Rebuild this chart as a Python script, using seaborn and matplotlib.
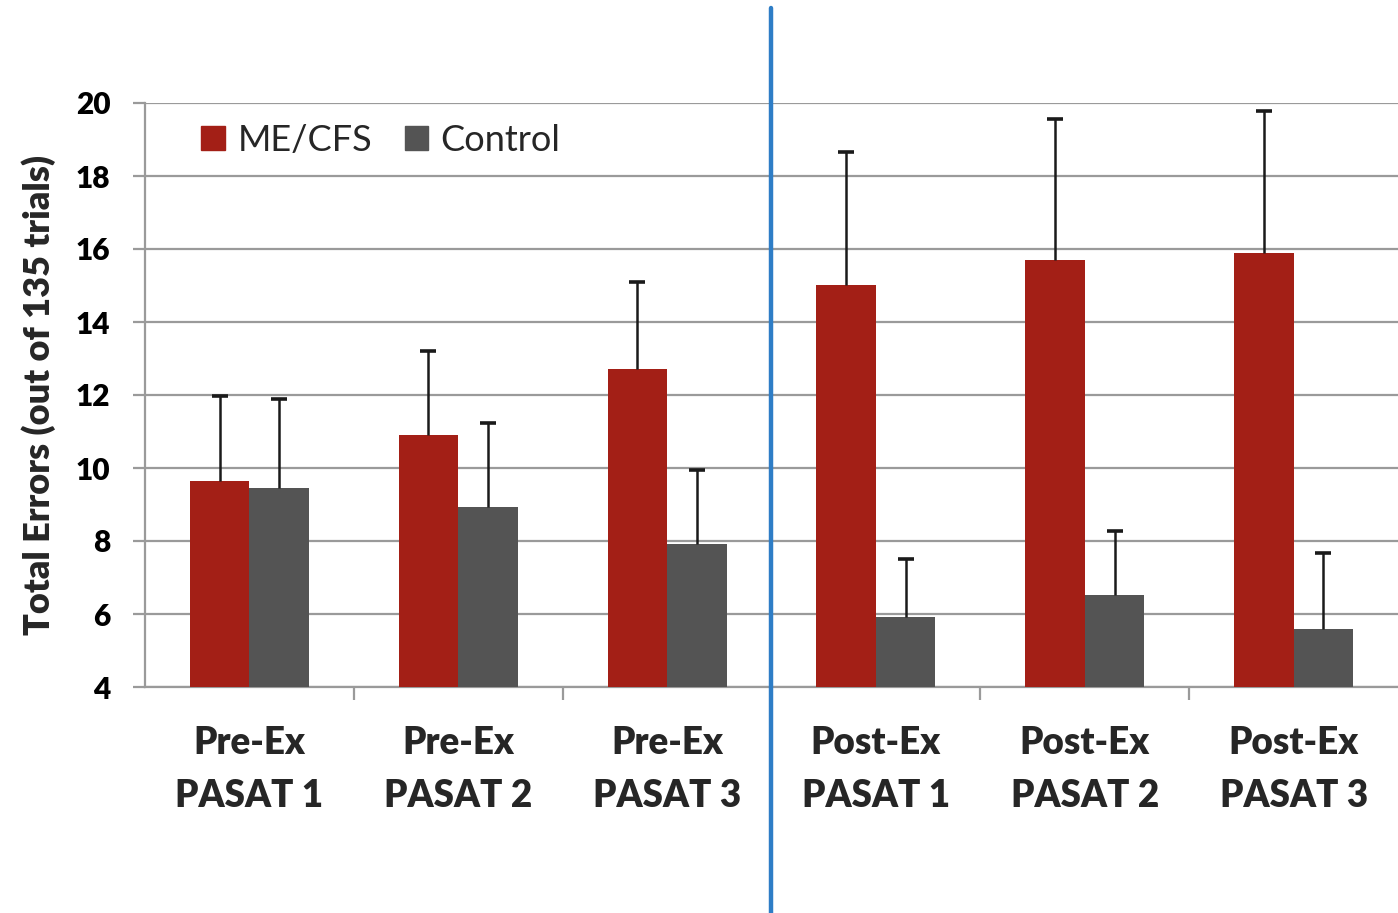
import matplotlib
matplotlib.use("Agg")
import matplotlib.pyplot as plt
from matplotlib.patches import Patch
import seaborn as sns
import pandas as pd
import numpy as np

categories = ["Pre-Ex\nPASAT 1", "Pre-Ex\nPASAT 2", "Pre-Ex\nPASAT 3",
              "Post-Ex\nPASAT 1", "Post-Ex\nPASAT 2", "Post-Ex\nPASAT 3"]
groups = ["ME/CFS", "Control"]
me_values = [9.65, 10.9, 12.7, 15.0, 15.7, 15.9]
me_errors = [2.32, 2.3, 2.4, 3.65, 3.85, 3.88]
ctrl_values = [9.45, 8.93, 7.92, 5.92, 6.52, 5.59]
ctrl_errors = [2.44, 2.3, 2.03, 1.58, 1.76, 2.08]
y_ticks = [4, 6, 8, 10, 12, 14, 16, 18, 20]

df = pd.DataFrame({
    "category": categories * 2,
    "group": [groups[0]] * 6 + [groups[1]] * 6,
    "value": me_values + ctrl_values,
})

sns.set_theme(style="white")
plt.rcParams['font.family'] = ['Lato', 'DejaVu Sans']

W, H = 1398, 913
fig = plt.figure(figsize=(W / 100, H / 100), dpi=100)
ax = fig.add_axes([145 / W, (H - 687) / H, (W - 145) / W, (687 - 103) / H])

colors = {"ME/CFS": "#A31F16", "Control": "#545454"}
sns.barplot(data=df, x="category", y="value", hue="group", order=categories,
            hue_order=groups, palette=colors, width=0.57, ax=ax,
            legend=False, errorbar=None, saturation=1, linewidth=0, zorder=3)

ax.set_ylim(4, 20)
ax.set_xlim(-0.5, 5.5)
ax.set_yticks(y_ticks)

# error bars (upper only), positioned from the bar patches
errs = me_errors + ctrl_errors
vals = me_values + ctrl_values
for p, v, e in zip(ax.patches, vals, errs):
    xc = p.get_x() + p.get_width() / 2
    ax.errorbar(xc, v, yerr=[[0], [e]], fmt="none", ecolor="#1a1a1a",
                elinewidth=1.8, capsize=0, zorder=4)
    ax.plot([xc], [v + e], marker="_", markersize=11, markeredgewidth=2.6,
            color="#1a1a1a", zorder=4)

ax.yaxis.grid(True, color="#9a9a9a", linewidth=1.6, zorder=0)
ax.xaxis.grid(False)
for s in ["top", "right"]:
    ax.spines[s].set_visible(False)
for s in ["left", "bottom"]:
    ax.spines[s].set_color("#9a9a9a")
    ax.spines[s].set_linewidth(1.6)

ax.tick_params(axis="y", which="major", length=9, width=1.6, color="#9a9a9a",
               left=True, pad=16, labelsize=21.5, labelcolor="black")
for lab in ax.get_yticklabels():
    lab.set_fontweight("heavy")

ax.set_xticks(range(len(categories)))
ax.set_xticklabels(categories, fontsize=26.5, fontweight="heavy", linespacing=1.7)
ax.tick_params(axis="x", which="major", length=0, pad=28)
ax.set_xticks(np.arange(0.5, 5.5, 1.0), minor=True)
ax.tick_params(axis="x", which="minor", length=9, width=1.6, color="#9a9a9a",
               bottom=True)

ax.set_xlabel("")
ax.set_ylabel("Total Errors (out of 135 trials)", fontsize=26, fontweight="heavy",
              labelpad=14)

handles = [Patch(color=colors[g]) for g in groups]
ax.legend(handles, groups, loc="upper left", bbox_to_anchor=(0.019, 1.02),
          ncol=2, frameon=False, fontsize=26, handlelength=0.65,
          handleheight=0.65, handletextpad=0.35, columnspacing=0.9)

ax.axvline(2.5, ymin=-0.387, ymax=1.163, color="#2E7DC6", linewidth=3.2,
           clip_on=False, zorder=5)

fig.savefig("out.png", dpi=100)
